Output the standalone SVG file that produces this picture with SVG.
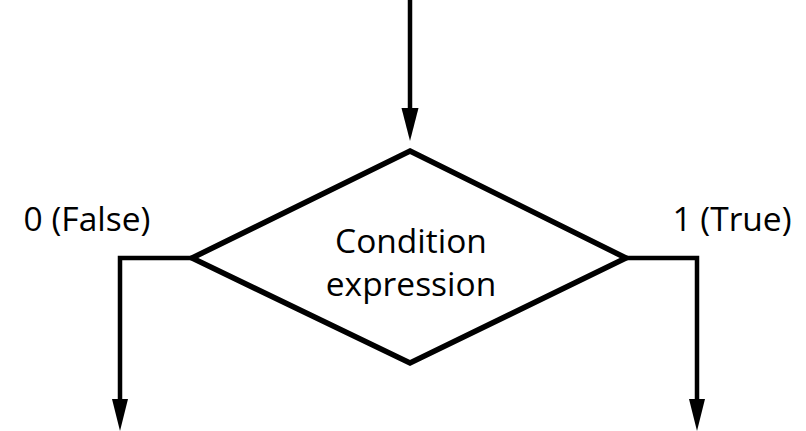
<svg xmlns="http://www.w3.org/2000/svg" width="806" height="431" viewBox="0 0 806 431">
  <style>
    .edge { fill: none; stroke: #000; stroke-width: 4.5; }
    .head { fill: #000; }
    .shape { fill: #fff; stroke: #000; stroke-width: 5.5; stroke-linejoin: miter; }
    .label { font-family: "Open Sans", "Noto Sans", "Liberation Sans", sans-serif; font-size: 33.5px; fill: #000; }
  </style>
  <rect width="806" height="431" fill="#fff"/>
  <g id="connectors">
    <path class="edge" d="M410,0 V112"/>
    <polygon class="head" points="401.5,108 418.5,108 410,141"/>
    <path class="edge" d="M192,258 H120 V402"/>
    <polygon class="head" points="112,399 128,399 120,431"/>
    <path class="edge" d="M626,258 H697 V402"/>
    <polygon class="head" points="689,399 705,399 697,431"/>
  </g>
  <g id="decision">
    <polygon class="shape" points="410,151 626,258 410,363 192,258"/>
    <text class="label" x="411" y="253" text-anchor="middle">Condition</text>
    <text class="label" x="411" y="296" text-anchor="middle">expression</text>
  </g>
  <g id="label-false">
    <text class="label" x="87" y="231" text-anchor="middle">0 (False)</text>
  </g>
  <g id="label-true">
    <text class="label" x="732" y="231" text-anchor="middle">1 (True)</text>
  </g>
</svg>
